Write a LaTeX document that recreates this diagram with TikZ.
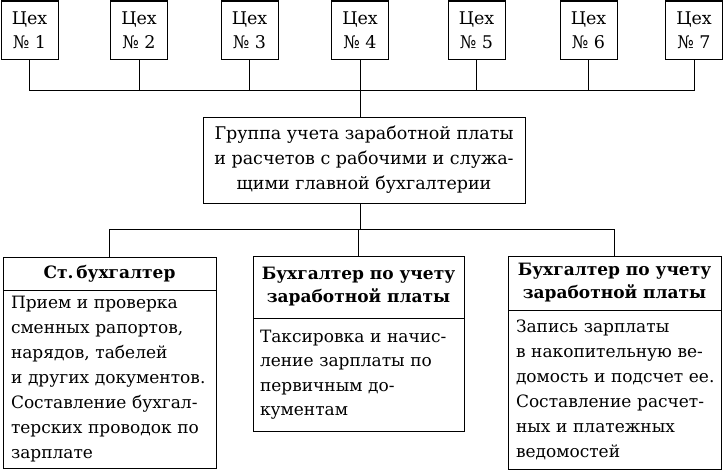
\documentclass[tikz,border=0pt]{standalone}
\usepackage{fontspec}
\setmainfont{DejaVu Serif}
\begin{document}
\begin{tikzpicture}[x=1pt,y=-1pt,line width=1pt,
  shop/.style={draw,minimum width=57pt,minimum height=58pt,inner sep=0pt,align=center,
    font=\fontsize{17.5}{24}\selectfont},
  mainbox/.style={draw,minimum width=322pt,minimum height=86pt,inner sep=0pt,align=center,
    font=\fontsize{17.5}{25}\selectfont},
  hdr/.style={draw,inner sep=0pt,align=center,font=\fontsize{17}{23}\selectfont\bfseries},
  body/.style={draw,inner xsep=8pt,inner ysep=0pt,align=left,
    font=\fontsize{17}{25}\selectfont}]
\useasboundingbox (0,0) rectangle (723,471);
\node[shop] (c1) at (29.5,30) {Цех\\№ 1};
\node[shop] (c2) at (139,30) {Цех\\№ 2};
\node[shop] (c3) at (249.5,30) {Цех\\№ 3};
\node[shop] (c4) at (360,30) {Цех\\№ 4};
\node[shop] (c5) at (476.5,30) {Цех\\№ 5};
\node[shop] (c6) at (588.5,30) {Цех\\№ 6};
\node[shop] (c7) at (694,30) {Цех\\№ 7};
\node[mainbox] (main) at (364,160) {Группа учета заработной платы\\и расчетов с рабочими и служа-\\щими главной бухгалтерии};
\node[hdr,minimum width=213pt,minimum height=33pt] (h1) at (109.5,273.5) {Ст.\,бухгалтер};
\node[hdr,minimum width=211pt,minimum height=62pt] (h2) at (358.5,287) {Бухгалтер по учету\\заработной платы};
\node[hdr,minimum width=213pt,minimum height=54pt] (h3) at (614.5,283) {Бухгалтер по учету\\заработной платы};
\node[body,text width=197pt,minimum height=178pt] (b1) at (109.5,379) {Прием~и~проверка\\сменных~рапортов,\\нарядов,~табелей\\и~других~документов.\\Составление~бухгал-\\терских~проводок~по\\зарплате};
\node[body,inner xsep=7pt,text width=197pt,minimum height=113pt,font=\fontsize{17}{24.5}\selectfont] (b2) at (358.5,374.5) {Таксировка~и~начис-\\ление~зарплаты~по\\первичным~до-\\кументам};
\node[body,text width=197pt,minimum height=159pt] (b3) at (614.5,389.5) {Запись~зарплаты\\в~накопительную~ве-\\домость~и~подсчет~ее.\\Составление~расчет-\\ных~и~платежных\\ведомостей};
\coordinate (tb) at (0,90);
\coordinate (lb) at (0,229);
\draw (c1.south) |- (tb -| c7.south) -- (c7.south);
\foreach \i in {2,3,5,6} \draw (c\i.south) -- (c\i.south |- tb);
\draw (c4.south) -- (c4.south |- main.north);
\draw (main.south -| c4.south) -- (c4.south |- lb);
\draw (h1.north) |- (lb -| h3.north) -- (h3.north);
\draw (h2.north) -- (h2.north |- lb);
\end{tikzpicture}
\end{document}
